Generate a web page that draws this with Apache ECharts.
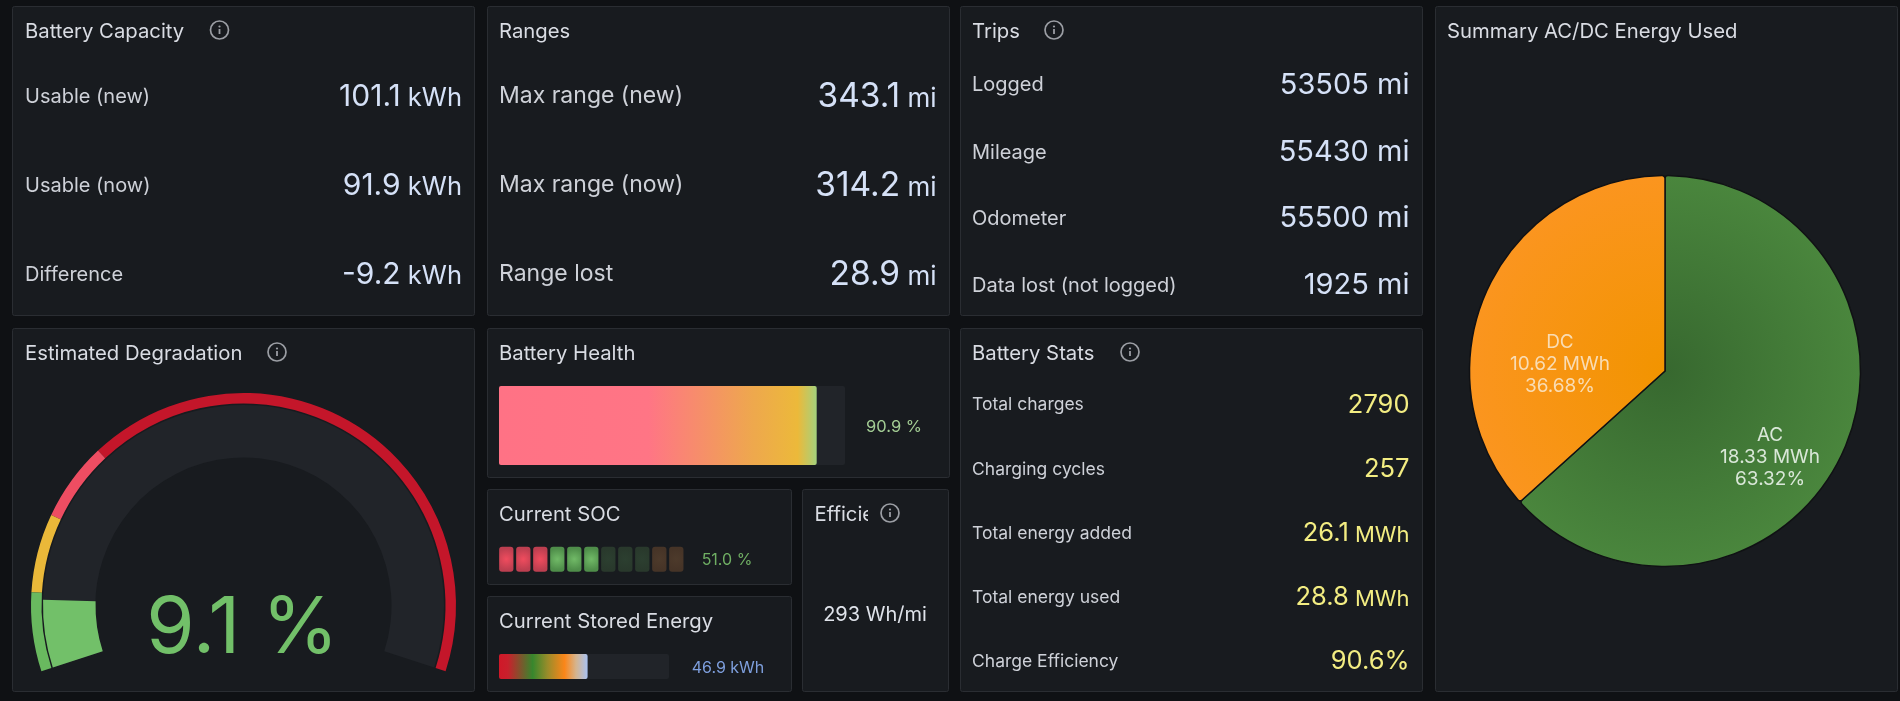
<!DOCTYPE html>
<html>
<head>
<meta charset="utf-8">
<title>Battery dashboard</title>
<script src="https://cdn.jsdelivr.net/npm/echarts@6/dist/echarts.min.js"></script>
<style>
  html, body { margin: 0; padding: 0; background: #0f1114; }
  #main { width: 1900px; height: 701px; }
</style>
</head>
<body>
<div id="main"></div>
<script>
// Stat rows
const capacityLabels = ['Usable (new)', 'Usable (now)', 'Difference'];
const capacityValues = ['101.1', '91.9', '-9.2'];
const capacityUnit = ' kWh';
const rangeLabels = ['Max range (new)', 'Max range (now)', 'Range lost'];
const rangeValues = ['343.1', '314.2', '28.9'];
const rangeUnit = ' mi';
const tripLabels = ['Logged', 'Mileage', 'Odometer', 'Data lost (not logged)'];
const tripValues = ['53505', '55430', '55500', '1925'];
const tripUnit = ' mi';
const statLabels = ['Total charges', 'Charging cycles', 'Total energy added', 'Total energy used', 'Charge Efficiency'];
const statValues = ['2790', '257', '26.1', '28.8', '90.6%'];
const statUnits = ['', '', ' MWh', ' MWh', ''];

// Gauges and bar gauges
const degradation = 9.1;
const degradationStops = [10, 20, 30, 100];
const degradationColors = ['#69b95f', '#eab839', '#ee4d62', '#c4162a'];
const batteryHealth = 90.9;
const healthMax = 99;
const socPercent = 51.0;
const socCells = [0, 1, 2, 3, 4, 5, 6, 7, 8, 9, 10];
const storedEnergy = 46.9;
const storedMax = 90;
const efficiencyValue = '293 Wh/mi';

// Energy split
const energyNames = ['AC', 'DC'];
const energyValues = [18.33, 10.62];

const FONT = 'Inter, "Noto Sans", sans-serif';
const BG_PANEL = '#181b1f';
const BORDER = '#2a2d32';
const TITLE = '#d9dce3';
const LABEL = '#ced1d8';
const VALUE = '#d5e1f7';
const YELLOW = '#f3ed82';
const TRACK = '#212429';

const graphics = [];

function panel(x0, y0, x1, y1) {
  graphics.push({
    type: 'rect', z: 0,
    shape: { x: x0 + 0.5, y: y0 + 0.5, width: x1 - x0, height: y1 - y0, r: 2 },
    style: { fill: BG_PANEL, stroke: BORDER, lineWidth: 1 }
  });
}

function text(x, y, str, size, fill, align, weight) {
  graphics.push({
    type: 'text', z: 5,
    style: { x, y: y + 1.5, text: str, font: (weight || 400) + ' ' + size + 'px ' + FONT, fill, align: align || 'left', verticalAlign: 'middle' }
  });
}

const title = (x, y, str) => text(x, y, str, 20.3, TITLE, 'left', 400);

// Right-aligned number with a smaller unit sitting on the same baseline
function valueText(x, y, val, unit, size, unitSize, fill, nudge) {
  graphics.push({
    type: 'text', z: 5,
    style: {
      x, y: y + 1.5,
      text: unit ? '{v|' + val + '}{u|' + unit + '}' : '{v|' + val + '}',
      align: 'right', verticalAlign: 'middle', fill,
      rich: {
        v: { font: '400 ' + size + 'px ' + FONT, fill },
        u: { font: '400 ' + unitSize + 'px ' + FONT, fill, padding: [nudge, 0, 0, 0] }
      }
    }
  });
}

function infoIcon(cx, cy) {
  graphics.push(
    { type: 'circle', z: 6, shape: { cx, cy, r: 9 }, style: { fill: 'none', stroke: '#9b9ea4', lineWidth: 1.7 } },
    { type: 'rect', z: 6, shape: { x: cx - 0.9, y: cy - 1, width: 1.8, height: 5 }, style: { fill: '#9b9ea4' } },
    { type: 'circle', z: 6, shape: { cx, cy: cy - 3.5, r: 1.1 }, style: { fill: '#9b9ea4' } }
  );
}

function rows(labels, ys, x, size) {
  labels.forEach((l, i) => text(x, ys[i], l, size, LABEL));
}

// Panel frames
panel(12, 6, 474, 315);
panel(12, 328, 474, 691);
panel(487, 6, 949, 315);
panel(487, 328, 949, 477);
panel(487, 489, 791, 584);
panel(487, 596, 791, 691);
panel(802, 489, 948, 691);
panel(960, 6, 1422, 315);
panel(960, 328, 1422, 691);
panel(1435, 6, 1897, 691);

// Titles
title(25, 30, 'Battery Capacity'); infoIcon(219.5, 30);
title(25, 352, 'Estimated Degradation'); infoIcon(277, 352);
title(499, 30, 'Ranges');
title(499, 352, 'Battery Health');
title(499, 513, 'Current SOC');
title(499, 620, 'Current Stored Energy');
title(814.5, 513, 'Efficiency');
// The narrow panel cuts its title short
graphics.push({ type: 'rect', z: 5.5, shape: { x: 868, y: 500, width: 78, height: 26 }, style: { fill: BG_PANEL } });
infoIcon(890, 513);
title(972, 30, 'Trips'); infoIcon(1054, 30);
title(972, 352, 'Battery Stats'); infoIcon(1130, 352);
title(1447, 30, 'Summary AC/DC Energy Used');

// Battery Capacity
const topRows = [95, 184, 273];
rows(capacityLabels, topRows, 25, 20);
capacityValues.forEach((v, i) => valueText(462, topRows[i], v, capacityUnit, 30, 25.5, VALUE, 4));

// Ranges
rows(rangeLabels, topRows, 499, 23);
rangeValues.forEach((v, i) => valueText(936.5, topRows[i], v, rangeUnit, 33.5, 26, VALUE, 6));

// Trips
const tripRows = [83.5, 151, 217, 284];
rows(tripLabels, tripRows, 972, 20);
tripValues.forEach((v, i) => valueText(1409.5, tripRows[i], v, tripUnit, 29, 29, VALUE, 0));

// Battery Stats
const statRows = [403.5, 468, 532, 596, 660];
rows(statLabels, statRows, 972, 17.5);
statValues.forEach((v, i) => valueText(1409.5, statRows[i], v, statUnits[i], 25.5, 22, YELLOW, 3));

// Text beside the bar gauges
text(894, 426, batteryHealth.toFixed(1) + ' %', 16.5, '#a3cd94', 'center');
text(727, 559, socPercent.toFixed(1) + ' %', 16, '#6fae63', 'center');
text(728, 667, storedEnergy.toFixed(1) + ' kWh', 16, '#7e9fdd', 'center');
text(875, 613, efficiencyValue, 20, '#dfe3ea', 'center');

// SOC cell colour by position; a cell is lit once the value has reached it
function socCellStyle(i) {
  const lit = (i / socCells.length) * 100 < socPercent;
  const band = i < 3 ? 'red' : i < 9 ? 'green' : 'orange';
  const palette = {
    red: ['#f04c5e', '#bd3f50'],
    green: ['#71ba67', '#4f8e4a'],
    orange: ['#ff9830', '#b06a20']
  };
  const dim = { red: ['#4a262c', '#3e2328'], green: ['#2c3f30', '#29392c'], orange: ['#4d3a2b', '#463427'] };
  const c = lit ? palette[band] : dim[band];
  return {
    color: { type: 'radial', x: 0.5, y: 0.5, r: 0.75, colorStops: [{ offset: 0, color: c[0] }, { offset: 1, color: c[1] }] },
    borderRadius: 3
  };
}

const hiddenValue = (gridIndex, max) => ({ type: 'value', gridIndex, min: 0, max, show: false });
const hiddenCategory = (gridIndex, data) => ({ type: 'category', gridIndex, data, show: false });

const option = {
  backgroundColor: '#0f1114',
  animation: false,
  textStyle: { fontFamily: FONT },
  graphic: { elements: graphics },
  grid: [
    { left: 499, top: 386, width: 346, height: 79 },
    { left: 497.8, top: 546.7, width: 187, height: 25 },
    { left: 499, top: 654, width: 170, height: 25 }
  ],
  xAxis: [
    hiddenValue(0, healthMax),
    hiddenCategory(1, socCells),
    hiddenValue(2, storedMax)
  ],
  yAxis: [
    hiddenCategory(0, ['Battery Health']),
    hiddenValue(1, 1),
    hiddenCategory(2, ['Current Stored Energy'])
  ],
  series: [
    {
      name: 'Health', type: 'bar', xAxisIndex: 0, yAxisIndex: 0, z: 3,
      barWidth: '100%', showBackground: true,
      backgroundStyle: { color: TRACK, borderRadius: 2 },
      data: [batteryHealth],
      itemStyle: {
        borderRadius: 2,
        color: {
          type: 'linear', x: 0, y: 0, x2: 1, y2: 0,
          colorStops: [
            { offset: 0, color: '#ff7285' }, { offset: 0.47, color: '#ff7585' },
            { offset: 0.64, color: '#f68f69' }, { offset: 0.8, color: '#eea84d' },
            { offset: 0.94, color: '#ecb93a' }, { offset: 1, color: '#a5d27d' }
          ]
        }
      }
    },
    {
      name: 'SOC', type: 'bar', xAxisIndex: 1, yAxisIndex: 1, z: 3,
      barWidth: 14.3,
      data: socCells.map(i => ({ value: 1, itemStyle: socCellStyle(i) }))
    },
    {
      name: 'Stored', type: 'bar', xAxisIndex: 2, yAxisIndex: 2, z: 3,
      barWidth: '100%', showBackground: true,
      backgroundStyle: { color: TRACK, borderRadius: 2 },
      data: [storedEnergy],
      itemStyle: {
        borderRadius: 2,
        color: {
          type: 'linear', x: 0, y: 0, x2: 1, y2: 0,
          colorStops: [
            { offset: 0, color: '#d01828' }, { offset: 0.1, color: '#c9202c' },
            { offset: 0.38, color: '#37872d' }, { offset: 0.55, color: '#9a8c2a' },
            { offset: 0.74, color: '#fb8619' }, { offset: 0.87, color: '#d5b48e' },
            { offset: 1, color: '#a9c2f2' }
          ]
        }
      }
    },
    {
      name: 'Thresholds', type: 'gauge', z: 3,
      center: [243.5, 605.5], radius: 212.5,
      startAngle: 198, endAngle: -18, min: 0, max: 100,
      axisLine: {
        lineStyle: {
          width: 10.5,
          color: degradationStops.map((s, i) => [s / 100, degradationColors[i]])
        }
      },
      progress: { show: false }, pointer: { show: false }, anchor: { show: false },
      axisTick: { show: false }, splitLine: { show: false }, axisLabel: { show: false },
      title: { show: false }, detail: { show: false },
      data: [{ value: degradation }]
    },
    {
      name: 'Degradation', type: 'gauge', z: 3,
      center: [243.5, 605.5], radius: 200.5,
      startAngle: 198, endAngle: -18, min: 0, max: 100,
      axisLine: { lineStyle: { width: 52.5, color: [[1, TRACK]] } },
      progress: { show: true, width: 52.5, itemStyle: { color: '#72c069' } },
      pointer: { show: false }, anchor: { show: false },
      axisTick: { show: false }, splitLine: { show: false }, axisLabel: { show: false },
      title: { show: false },
      detail: {
        show: true, offsetCenter: [-1, 24],
        formatter: v => v.toFixed(1) + ' %',
        color: '#72c069', fontSize: 78, fontWeight: 400, fontFamily: FONT
      },
      data: [{ value: degradation }]
    },
    {
      name: 'Energy', type: 'pie', z: 3,
      center: [1665, 371], radius: 195.5,
      startAngle: 90, clockwise: true, percentPrecision: 2,
      itemStyle: { borderColor: '#101114', borderWidth: 1.5, borderRadius: 3 },
      labelLine: { show: false },
      label: {
        position: 'inside', formatter: '{b}\n{c} MWh\n{d}%',
        fontFamily: FONT, fontSize: 19, lineHeight: 22, align: 'center'
      },
      data: energyNames.map((name, i) => ({
        name,
        value: energyValues[i],
        label: i === 0
          ? { color: '#d9e7d8', offset: [13, 45] }
          : { color: '#f9dcb4', offset: [-13, 34] },
        itemStyle: {
          color: {
            type: 'radial', x: 1665, y: 371, r: 196, global: true,
            colorStops: i === 0
              ? [{ offset: 0, color: '#37682f' }, { offset: 1, color: '#4a863d' }]
              : [{ offset: 0, color: '#f29400' }, { offset: 1, color: '#fb951f' }]
          }
        }
      }))
    }
  ]
};

const chart = echarts.init(document.getElementById('main'), null, { width: 1900, height: 701 });
chart.setOption(option);
</script>
</body>
</html>
